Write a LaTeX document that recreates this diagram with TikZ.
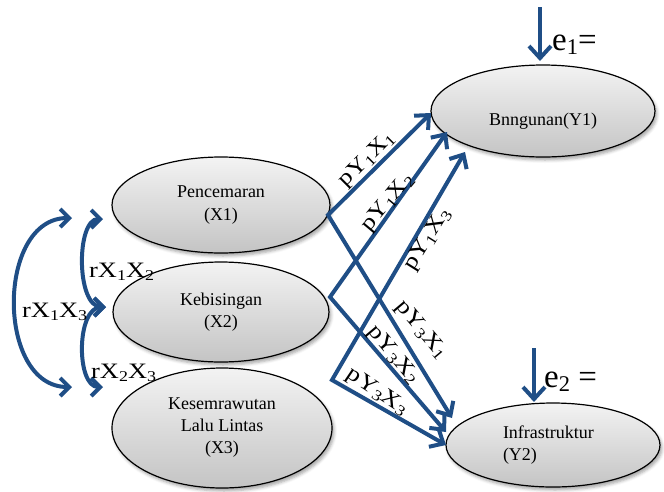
\documentclass[tikz,border=0pt]{standalone}
\usepackage{fontspec}
\setmainfont{Liberation Serif}
\newfontfamily\widefont[FakeStretch=1.2]{Liberation Serif}
\usetikzlibrary{arrows.meta,shapes.geometric,shadows.blur}

\definecolor{pathblue}{RGB}{31,78,134}
\definecolor{shadetop}{RGB}{243,243,243}
\definecolor{shadebot}{RGB}{196,196,196}

% lowered, smaller index digit
\newcommand\lo[1]{\raisebox{-0.3ex}{\scalebox{0.68}{#1}}}

\tikzset{
  chevS/.tip={Straight Barb[length=9pt,width=18pt]},
  chevL/.tip={Straight Barb[length=11pt,width=20pt]},
  chevE/.tip={Straight Barb[length=12pt,width=22pt]},
}

\begin{document}
\begin{tikzpicture}[x=1pt,y=-1pt,
  var/.style={ellipse, draw=black, line width=1.2pt,
    top color=shadetop, bottom color=shadebot,
    inner sep=0pt, align=center,
    font=\fontsize{18}{22.5}\selectfont,
    blur shadow={shadow xshift=2pt, shadow yshift=-3pt,
      shadow blur radius=3pt, shadow opacity=35}},
  link/.style={draw=pathblue, line width=4pt, line join=miter},
  coef/.style={font=\widefont\fontsize{22}{22}\selectfont, inner sep=0pt},
  err/.style={font=\fontsize{33}{33}\selectfont, inner sep=0pt, anchor=base west},
]
\useasboundingbox (0,0) rectangle (664,491);

% exogenous variables
\node[var, minimum width=218pt, minimum height=96pt] (x1) at (221,205) {Pencemaran\\(X1)};
\node[var, minimum width=216pt, minimum height=100pt] (x2) at (221,312) {Kebisingan\\(X2)};
\node[var, minimum width=220pt, minimum height=120pt, font=\fontsize{18}{22}\selectfont] (x3) at (222,428) {Kesemrawutan\\Lalu Lintas\\(X3)};

% endogenous variables
\node[var, minimum width=224pt, minimum height=92pt, text height=30pt, text depth=2pt] (y1) at (543,111) {Bnngunan(Y1)};
\node[var, minimum width=214pt, minimum height=84pt, align=left, text width=100pt] (y2) at (553,445) {Infrastruktur\\(Y2)};

% path end points
\coordinate (s1) at (328,215);
\coordinate (s2) at (330,297);
\coordinate (s3) at (332,380);
\coordinate (a1) at (431,113);
\coordinate (a2) at (447,132);
\coordinate (a3) at (465,152);
\coordinate (b1) at (452,418);
\coordinate (b2) at (446,432);
\coordinate (b3) at (446,445);

% direct effects on Y1 and Y2
\draw[link, chevL-chevL] (a1) -- (s1) -- (b1);
\draw[link, chevL-chevL] (a2) -- (s2) -- (b2);
\draw[link, chevL-chevL] (a3) -- (s3) -- (b3);

% correlation arcs
\coordinate (c1) at (103,219);
\coordinate (c2) at (106,307);
\coordinate (c3) at (103,387);
\coordinate (o1) at (72,218);
\coordinate (o3) at (72,387);
\draw[link, chevS-chevS] (c1) .. controls (76,219) and (76,307) .. (c2);
\draw[link, chevS-chevS] (c2) .. controls (76,307) and (76,387) .. (c3);
\draw[link, chevS-chevS] (o1) .. controls (-4,218) and (-4,387) .. (o3);

% residual arrows
\coordinate (e1s) at (540,7);
\coordinate (e1t) at (540,61);
\coordinate (e2s) at (534,348);
\coordinate (e2t) at (534,402);
\draw[link, -chevE] (e1s) -- (e1t);
\draw[link, -chevE] (e2s) -- (e2t);
\node[err] (e1) at (552,50) {e\lo{1}=};
\node[err] (e2) at (544,387) {e\lo{2} =};

% correlation labels
\node[coef, anchor=base west] (r12) at (89,277) {rX\lo1X\lo2};
\node[coef, anchor=base west] (r13) at (22,317) {rX\lo1X\lo3};
\node[coef, anchor=base west] (r23) at (91,378) {rX\lo2X\lo3};

% path coefficient labels
\node[coef, rotate=45] (p11) at (367,160) {pY\lo1X\lo1};
\node[coef, rotate=50] (p12) at (388,203) {pY\lo1X\lo2};
\node[coef, rotate=58] (p13) at (428,240) {pY\lo1X\lo3};
\node[coef, rotate=-50] (p31) at (421,330) {pY\lo3X\lo1};
\node[coef, rotate=-50] (p32) at (393,355) {pY\lo3X\lo2};
\node[coef, rotate=-34] (p33) at (377,392) {pY\lo3X\lo3};
\end{tikzpicture}
\end{document}
